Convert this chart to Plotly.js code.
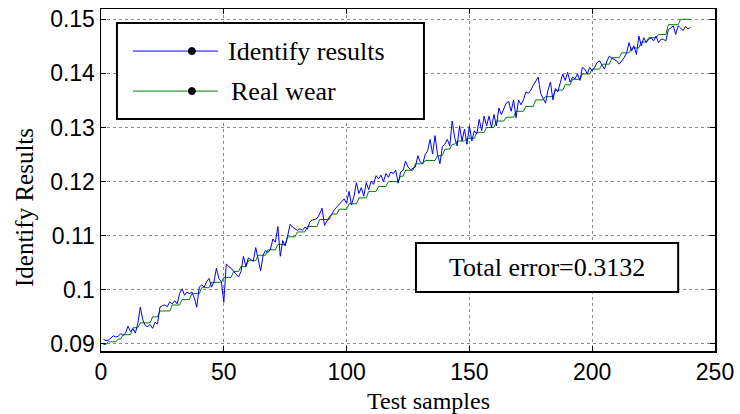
<!DOCTYPE html>
<html>
<head>
<meta charset="utf-8">
<script src="https://cdn.plot.ly/plotly-3.0.1.min.js"></script>
<style>html,body{margin:0;padding:0;background:#fff;}#chart{width:740px;height:414px;}</style>
</head>
<body>
<div id="chart"></div>
<script>
// Identify results (blue), samples 1..240
const identifyResults = [
0.0909,0.0906,0.0907,0.0911,0.0915,0.0913,0.0914,0.0919,0.0916,0.0920,
0.0933,0.0923,0.0928,0.0920,0.0938,0.0968,0.0945,0.0934,0.0932,0.0936,
0.0929,0.0940,0.0937,0.0968,0.0971,0.0972,0.0969,0.0978,0.0974,0.0980,
0.0974,0.0993,0.1002,0.0990,0.0996,0.0993,0.0996,0.0985,0.0968,0.1005,
0.1009,0.1005,0.1015,0.1021,0.1005,0.1015,0.1040,0.1021,0.1015,0.0977,
0.1048,0.1043,0.1040,0.1034,0.1028,0.1024,0.1034,0.1062,0.1043,0.1059,
0.1056,0.1053,0.1078,0.1059,0.1035,0.1064,0.1073,0.1069,0.1075,0.1094,
0.1088,0.1117,0.1062,0.1091,0.1081,0.1100,0.1121,0.1116,0.1113,0.1110,
0.1113,0.1110,0.1116,0.1112,0.1125,0.1129,0.1130,0.1132,0.1140,0.1151,
0.1119,0.1128,0.1135,0.1140,0.1148,0.1153,0.1158,0.1163,0.1168,0.1160,
0.1182,0.1157,0.1173,0.1198,0.1178,0.1189,0.1173,0.1198,0.1185,0.1201,
0.1195,0.1211,0.1205,0.1212,0.1200,0.1215,0.1208,0.1218,0.1215,0.1221,
0.1197,0.1218,0.1221,0.1238,0.1227,0.1222,0.1225,0.1227,0.1248,0.1236,
0.1233,0.1250,0.1257,0.1278,0.1251,0.1285,0.1251,0.1233,0.1265,0.1269,
0.1278,0.1266,0.1312,0.1281,0.1266,0.1303,0.1275,0.1297,0.1269,0.1303,
0.1275,0.1294,0.1288,0.1315,0.1294,0.1321,0.1303,0.1321,0.1300,0.1324,
0.1303,0.1336,0.1324,0.1336,0.1345,0.1348,0.1330,0.1351,0.1318,0.1351,
0.1342,0.1351,0.1366,0.1363,0.1369,0.1378,0.1387,0.1393,0.1363,0.1354,
0.1345,0.1369,0.1384,0.1351,0.1372,0.1366,0.1384,0.1399,0.1387,0.1402,
0.1384,0.1393,0.1390,0.1399,0.1387,0.1411,0.1408,0.1399,0.1411,0.1405,
0.1411,0.1420,0.1423,0.1414,0.1408,0.1423,0.1432,0.1428,0.1426,0.1423,
0.1417,0.1423,0.1429,0.1438,0.1457,0.1441,0.1451,0.1435,0.1469,0.1451,
0.1466,0.1457,0.1463,0.1466,0.1460,0.1469,0.1457,0.1463,0.1463,0.1460,
0.1481,0.1484,0.1488,0.1472,0.1488,0.1484,0.1479,0.1487,0.1482,0.1485
];
// Real wear (green), samples 1..240
const realWear = [
0.0899,0.0899,0.0904,0.0904,0.0904,0.0904,0.0909,0.0909,0.0917,0.0917,
0.0917,0.0917,0.0930,0.0930,0.0930,0.0939,0.0939,0.0939,0.0939,0.0939,
0.0950,0.0950,0.0950,0.0961,0.0961,0.0961,0.0961,0.0961,0.0972,0.0972,
0.0972,0.0972,0.0982,0.0982,0.0982,0.0982,0.0993,0.0993,0.0993,0.0993,
0.1004,0.1004,0.1004,0.1004,0.1014,0.1014,0.1014,0.1014,0.1014,0.1023,
0.1023,0.1023,0.1023,0.1034,0.1034,0.1034,0.1043,0.1043,0.1043,0.1054,
0.1054,0.1054,0.1054,0.1064,0.1064,0.1064,0.1064,0.1074,0.1074,0.1074,
0.1074,0.1084,0.1084,0.1084,0.1084,0.1098,0.1098,0.1098,0.1098,0.1107,
0.1107,0.1107,0.1107,0.1117,0.1117,0.1117,0.1117,0.1117,0.1130,0.1130,
0.1130,0.1130,0.1130,0.1140,0.1140,0.1140,0.1149,0.1149,0.1149,0.1149,
0.1159,0.1159,0.1159,0.1159,0.1170,0.1170,0.1170,0.1170,0.1182,0.1182,
0.1182,0.1182,0.1191,0.1191,0.1191,0.1191,0.1200,0.1200,0.1200,0.1200,
0.1200,0.1210,0.1210,0.1221,0.1221,0.1221,0.1221,0.1233,0.1233,0.1233,
0.1233,0.1239,0.1239,0.1239,0.1239,0.1239,0.1248,0.1248,0.1248,0.1260,
0.1260,0.1260,0.1269,0.1269,0.1275,0.1275,0.1275,0.1275,0.1280,0.1280,
0.1280,0.1280,0.1291,0.1291,0.1291,0.1291,0.1300,0.1300,0.1300,0.1300,
0.1312,0.1312,0.1312,0.1312,0.1319,0.1319,0.1319,0.1319,0.1330,0.1330,
0.1330,0.1330,0.1339,0.1339,0.1339,0.1339,0.1351,0.1351,0.1351,0.1351,
0.1357,0.1357,0.1357,0.1357,0.1369,0.1369,0.1369,0.1369,0.1379,0.1379,
0.1379,0.1389,0.1389,0.1389,0.1389,0.1399,0.1399,0.1399,0.1399,0.1408,
0.1408,0.1408,0.1408,0.1417,0.1417,0.1417,0.1417,0.1429,0.1429,0.1429,
0.1429,0.1438,0.1438,0.1438,0.1438,0.1447,0.1447,0.1447,0.1447,0.1458,
0.1458,0.1458,0.1466,0.1466,0.1466,0.1466,0.1472,0.1472,0.1472,0.1472,
0.1490,0.1490,0.1490,0.1490,0.1490,0.1500,0.1500,0.1500,0.1500,0.1500
];
const samples = identifyResults.map((_, i) => i + 1);
const xTicks = [0, 50, 100, 150, 200, 250];
const yTicks = [0.09, 0.10, 0.11, 0.12, 0.13, 0.14, 0.15];
const yTickLabels = ['0.09', '0.1', '0.11', '0.12', '0.13', '0.14', '0.15'];
const legendNames = ['Identify results', 'Real wear'];
const errorText = 'Total error=0.3132';

const serif = '"Liberation Serif", "Times New Roman", serif';
const sans = '"Liberation Sans", Arial, sans-serif';

const traces = [
  {x: samples, y: realWear, type: 'scatter', mode: 'lines', name: legendNames[1],
   line: {color: '#008000', width: 1}, showlegend: false},
  {x: samples, y: identifyResults, type: 'scatter', mode: 'lines', name: legendNames[0],
   line: {color: '#0000ff', width: 1}, showlegend: false}
];

// manual legend / text box (paper coordinates)
const lg = {x0: 0.026, x1: 0.526, y0: 0.678, y1: 0.959};
const rowY = [0.877, 0.760];
const lineColors = ['#0000ff', '#008000'];
const shapes = [
  {type: 'rect', xref: 'paper', yref: 'paper', x0: lg.x0, x1: lg.x1, y0: lg.y0, y1: lg.y1,
   line: {color: '#000', width: 2}, fillcolor: '#fff', layer: 'above'},
  {type: 'rect', xref: 'paper', yref: 'paper', x0: 0.513, x1: 0.94, y0: 0.1725, y1: 0.316,
   line: {color: '#000', width: 2}, fillcolor: '#fff', layer: 'above'}
];
const annotations = [];
rowY.forEach((yy, i) => {
  shapes.push({type: 'line', xref: 'paper', yref: 'paper', x0: 0.052, x1: 0.1906, y0: yy, y1: yy,
    line: {color: lineColors[i], width: 1}, layer: 'above'});
  shapes.push({type: 'circle', xref: 'paper', yref: 'paper', xsizemode: 'pixel', ysizemode: 'pixel',
    xanchor: 0.148, yanchor: yy, x0: -3.5, x1: 3.5, y0: -3.5, y1: 3.5,
    fillcolor: '#000', line: {color: '#000', width: 1}, layer: 'above'});
  annotations.push({xref: 'paper', yref: 'paper', x: i === 0 ? 0.2036 : 0.2085, y: yy,
    xanchor: 'left', yanchor: 'middle', text: legendNames[i], showarrow: false,
    font: {family: serif, size: 26, color: '#000'}});
});
annotations.push({xref: 'paper', yref: 'paper', x: 0.7265, y: 0.244, xanchor: 'center', yanchor: 'middle',
  text: errorText, showarrow: false, font: {family: serif, size: 26, color: '#000'}});
// axis titles
annotations.push({xref: 'paper', yref: 'paper', x: (428 - 101) / 614, y: (351 - 413.5) / 342,
  xanchor: 'center', yanchor: 'bottom', text: 'Test samples', showarrow: false,
  borderpad: 0, borderwidth: 0,
  font: {family: serif, size: 24, color: '#000'}});
annotations.push({xref: 'paper', yref: 'paper', x: (24 - 101) / 614, y: (351 - 208) / 342,
  xanchor: 'center', yanchor: 'middle', textangle: -90, text: 'Identify Results', showarrow: false,
  font: {family: serif, size: 25, color: '#000'}});

const axisCommon = {
  showline: true, linecolor: '#000', linewidth: 1.5, mirror: 'ticks',
  ticks: 'inside', ticklen: 5, tickcolor: '#000', tickwidth: 1,
  showgrid: true, gridcolor: '#8a8a8a', gridwidth: 1, griddash: 'dot',
  zeroline: false, tickfont: {family: sans, size: 23, color: '#000'}
};

const layout = {
  width: 740, height: 414,
  margin: {l: 101, r: 25, t: 9, b: 63, pad: 0},
  paper_bgcolor: '#fff', plot_bgcolor: '#fff',
  showlegend: false,
  xaxis: Object.assign({}, axisCommon, {range: [0, 250], tickvals: xTicks, ticktext: xTicks.map(String)}),
  yaxis: Object.assign({}, axisCommon, {range: [0.0887, 0.1519], tickvals: yTicks, ticktext: yTickLabels}),
  shapes: shapes,
  annotations: annotations
};

Plotly.newPlot('chart', traces, layout, {displayModeBar: false, staticPlot: true});
</script>
</body>
</html>
